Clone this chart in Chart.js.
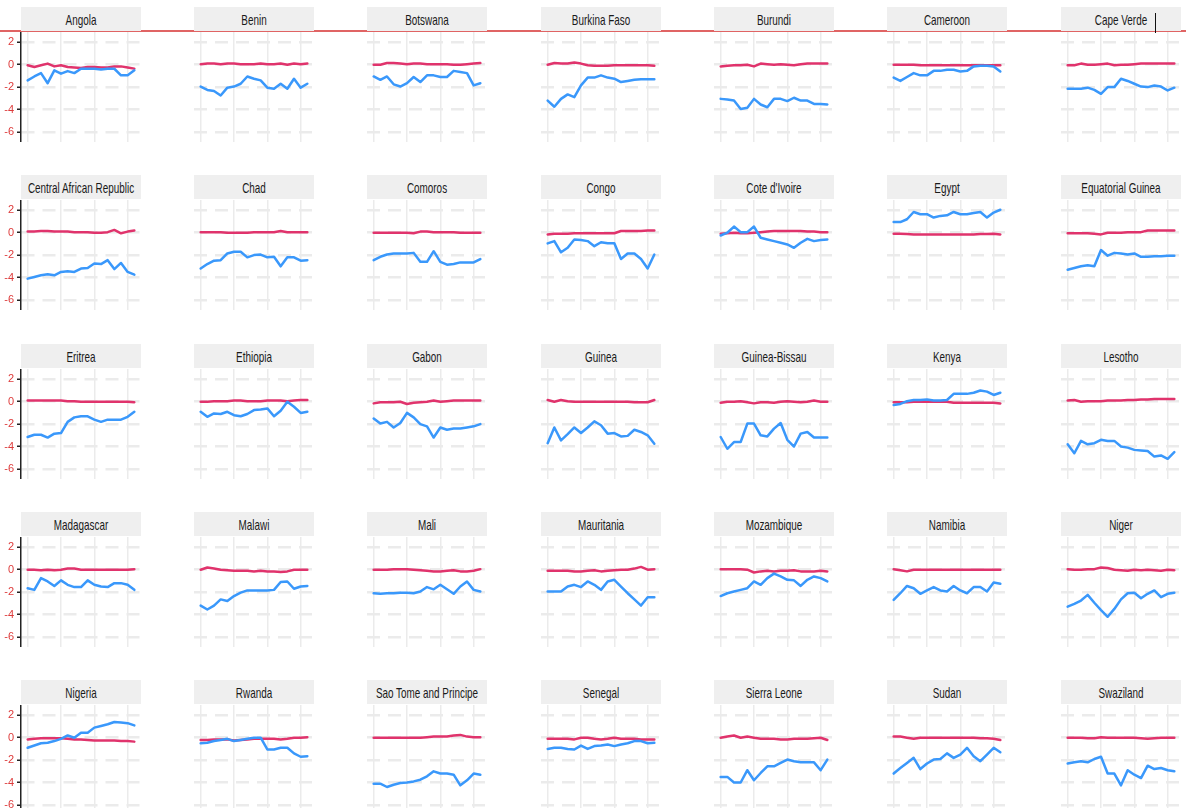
<!DOCTYPE html>
<html>
<head>
<meta charset="utf-8">
<script src="https://cdn.jsdelivr.net/npm/chart.js@4.4.0/dist/chart.umd.min.js"></script>
<style>
  body { margin: 0; background: #fff; width: 1186px; height: 808px; overflow: hidden; position: relative;
         font-family: "Liberation Sans", Arial, sans-serif; }
  .rule { position: absolute; left: 0; top: 30px; width: 1186px; height: 1.5px; background: #e06464; }
  .strip { position: absolute; width: 120px; height: 24px; background: #efefef; overflow: hidden; z-index: 2; }
  .strip span { position: absolute; left: 50%; top: 52%; transform: translate(-50%, -50%) scaleX(0.66);
                white-space: nowrap; font-size: 15px; color: #1a1a1a; }
  .caret { position: absolute; left: 1155px; top: 13px; width: 1px; height: 20px; background: #111; z-index: 3; }
  canvas { position: absolute; }
</style>
</head>
<body>
<div class="rule"></div>
<div class="caret"></div>
<script>
const countries = [
  'Angola', 'Benin', 'Botswana', 'Burkina Faso', 'Burundi', 'Cameroon', 'Cape Verde',
  'Central African Republic', 'Chad', 'Comoros', 'Congo', "Cote d'Ivoire", 'Egypt', 'Equatorial Guinea',
  'Eritrea', 'Ethiopia', 'Gabon', 'Guinea', 'Guinea-Bissau', 'Kenya', 'Lesotho',
  'Madagascar', 'Malawi', 'Mali', 'Mauritania', 'Mozambique', 'Namibia', 'Niger',
  'Nigeria', 'Rwanda', 'Sao Tome and Principe', 'Senegal', 'Sierra Leone', 'Sudan', 'Swaziland'
];
const years = [1990, 1991, 1992, 1993, 1994, 1995, 1996, 1997, 1998, 1999, 2000, 2001, 2002, 2003, 2004, 2005, 2006];
const yTicks = [-6, -4, -2, 0, 2];
const xGrid = [1990, 1995, 2000, 2005];

// blue series, one row per country (same order as countries)
const blueSeries = [
  [-1.4, -1.05, -0.75, -1.65, -0.5, -0.8, -0.57, -0.75, -0.36, -0.36, -0.36, -0.42, -0.36, -0.36, -0.95, -0.95, -0.5],
  [-1.95, -2.25, -2.35, -2.75, -2.05, -1.95, -1.7, -1.05, -1.25, -1.4, -2.05, -2.15, -1.7, -2.15, -1.25, -2.05, -1.7],
  [-1.05, -1.35, -1.05, -1.75, -1.95, -1.65, -1.1, -1.55, -0.95, -0.95, -1.1, -1.1, -0.55, -0.65, -0.75, -1.85, -1.65],
  [-3.2, -3.75, -3.05, -2.65, -2.9, -1.85, -1.15, -1.15, -0.95, -1.15, -1.25, -1.55, -1.45, -1.35, -1.3, -1.3, -1.3],
  [-3.05, -3.1, -3.2, -3.95, -3.85, -3.05, -3.55, -3.8, -3.05, -3.05, -3.25, -2.95, -3.2, -3.2, -3.5, -3.5, -3.55],
  [-1.15, -1.45, -1.1, -0.75, -0.95, -0.95, -0.55, -0.55, -0.45, -0.45, -0.6, -0.55, -0.15, -0.1, -0.1, -0.15, -0.6],
  [-2.15, -2.15, -2.15, -2.05, -2.25, -2.6, -2.0, -2.0, -1.25, -1.45, -1.7, -1.95, -2.0, -1.85, -1.95, -2.3, -2.05],

  [-4.1, -3.95, -3.8, -3.7, -3.8, -3.5, -3.45, -3.5, -3.2, -3.15, -2.75, -2.8, -2.45, -3.25, -2.7, -3.5, -3.75],
  [-3.2, -2.8, -2.5, -2.45, -1.85, -1.7, -1.7, -2.2, -2.0, -1.95, -2.2, -2.15, -3.0, -2.2, -2.2, -2.5, -2.45],
  [-2.45, -2.15, -1.95, -1.85, -1.85, -1.85, -1.8, -2.6, -2.6, -1.65, -2.6, -2.85, -2.8, -2.65, -2.65, -2.65, -2.35],
  [-0.95, -0.75, -1.75, -1.35, -0.6, -0.65, -0.75, -1.2, -0.85, -0.95, -0.95, -2.35, -1.85, -1.85, -2.35, -3.2, -1.95],
  [-0.25, 0, 0.55, 0.05, 0.05, 0.55, -0.45, -0.6, -0.75, -0.9, -1.05, -1.35, -0.9, -0.55, -0.75, -0.65, -0.6],
  [0.95, 0.95, 1.2, 1.85, 1.65, 1.65, 1.35, 1.5, 1.55, 1.85, 1.65, 1.65, 1.75, 1.85, 1.35, 1.8, 2.05],
  [-3.3, -3.15, -3.0, -2.9, -3.0, -1.55, -2.05, -1.8, -1.85, -1.95, -1.85, -2.15, -2.15, -2.1, -2.1, -2.05, -2.05],

  [-3.15, -2.95, -2.95, -3.2, -2.85, -2.8, -1.8, -1.4, -1.3, -1.3, -1.6, -1.8, -1.6, -1.6, -1.6, -1.35, -0.9],
  [-0.9, -1.35, -1.05, -1.1, -0.9, -1.2, -1.3, -1.1, -0.75, -0.7, -0.6, -1.3, -0.8, 0, -0.45, -1.0, -0.9],
  [-1.5, -1.95, -1.8, -2.3, -1.9, -1.0, -1.4, -2.0, -2.2, -3.2, -2.3, -2.5, -2.4, -2.4, -2.3, -2.2, -2.0],
  [-3.7, -2.3, -3.45, -2.9, -2.3, -2.8, -2.3, -1.75, -2.1, -2.85, -2.8, -3.1, -3.05, -2.5, -2.7, -3.0, -3.75],
  [-3.15, -4.2, -3.6, -3.6, -1.95, -1.95, -3.0, -3.1, -2.4, -1.9, -3.4, -4.0, -2.85, -2.7, -3.2, -3.2, -3.2],
  [-0.3, -0.2, 0.05, 0.15, 0.15, 0.2, 0.1, 0.1, 0.15, 0.7, 0.7, 0.7, 0.8, 1.0, 0.9, 0.6, 0.8],
  [-3.8, -4.6, -3.5, -3.8, -3.7, -3.4, -3.5, -3.5, -4.0, -4.1, -4.3, -4.35, -4.4, -4.9, -4.8, -5.1, -4.5],

  [-1.65, -1.8, -0.75, -1.05, -1.45, -0.95, -1.35, -1.55, -1.55, -0.95, -1.35, -1.5, -1.55, -1.2, -1.2, -1.35, -1.8],
  [-3.2, -3.55, -3.2, -2.65, -2.8, -2.35, -2.05, -1.85, -1.85, -1.85, -1.85, -1.8, -1.1, -1.05, -1.7, -1.5, -1.45],
  [-2.1, -2.15, -2.1, -2.1, -2.05, -2.05, -2.1, -1.95, -1.55, -1.75, -1.35, -1.75, -2.15, -1.5, -1.05, -1.8, -1.95],
  [-1.95, -1.95, -1.95, -1.5, -1.35, -1.55, -1.05, -1.35, -1.8, -1.05, -0.9, -1.5, -2.1, -2.65, -3.2, -2.45, -2.45],
  [-2.35, -2.1, -1.95, -1.8, -1.65, -1.05, -1.35, -0.75, -0.35, -0.6, -0.9, -0.95, -1.45, -0.9, -0.6, -0.75, -1.05],
  [-2.7, -2.1, -1.45, -1.65, -2.15, -1.85, -1.55, -1.85, -1.95, -1.45, -1.85, -2.1, -1.55, -1.55, -1.95, -1.15, -1.25],
  [-3.3, -3.05, -2.75, -2.25, -2.95, -3.6, -4.2, -3.5, -2.65, -2.1, -2.05, -2.55, -2.15, -1.85, -2.45, -2.15, -2.05],

  [-0.9, -0.7, -0.5, -0.45, -0.3, -0.1, 0.2, 0, 0.45, 0.45, 0.9, 1.05, 1.2, 1.4, 1.35, 1.3, 1.1],
  [-0.5, -0.45, -0.3, -0.2, -0.1, -0.3, -0.2, -0.1, 0, 0, -1.05, -1.05, -0.9, -0.9, -1.4, -1.7, -1.65],
  [-4.1, -4.1, -4.4, -4.2, -4.05, -4.0, -3.9, -3.75, -3.45, -3.0, -3.2, -3.2, -3.3, -4.25, -3.8, -3.2, -3.3],
  [-1.0, -0.9, -0.9, -1.0, -1.05, -0.7, -1.0, -0.75, -0.7, -0.6, -0.75, -0.6, -0.5, -0.3, -0.3, -0.5, -0.45],
  [-3.5, -3.5, -4.0, -4.0, -2.9, -3.8, -3.15, -2.55, -2.55, -2.25, -1.95, -2.1, -2.2, -2.2, -2.2, -2.9, -1.95],
  [-3.2, -2.7, -2.25, -1.8, -2.8, -2.3, -1.95, -1.9, -1.4, -1.8, -1.5, -0.9, -1.65, -2.1, -1.5, -0.9, -1.3],
  [-2.3, -2.2, -2.1, -2.2, -1.9, -1.7, -3.2, -3.2, -4.25, -2.9, -3.3, -3.6, -2.5, -2.8, -2.7, -2.9, -3.0]
];

// red series, one row per country
const redSeries = [
  [-0.05, -0.2, -0.05, 0.1, -0.15, -0.05, -0.2, -0.25, -0.3, -0.2, -0.2, -0.25, -0.25, -0.15, -0.15, -0.25, -0.35],
  [0.05, 0.1, 0.1, 0.05, 0.1, 0.1, 0.05, 0.05, 0.05, 0.1, 0.05, 0.05, 0.1, 0, 0.1, 0.05, 0.1],
  [0, 0, 0.15, 0.15, 0.1, 0.05, 0.1, 0.1, 0.05, 0.05, 0.05, 0.05, 0, 0, 0.05, 0.1, 0.15],
  [0, 0.15, 0.1, 0.1, 0.2, 0.1, -0.05, -0.1, -0.1, -0.1, -0.05, -0.05, -0.05, -0.05, -0.05, -0.05, -0.1],
  [-0.15, -0.1, -0.05, -0.05, 0, -0.15, 0.1, 0.05, 0, 0.05, 0, -0.05, 0.05, 0.1, 0.1, 0.1, 0.1],
  [0, 0, 0, 0, -0.05, -0.05, -0.05, -0.05, -0.05, -0.05, -0.05, -0.05, -0.05, -0.05, -0.05, -0.05, -0.05],
  [-0.05, -0.05, 0.1, 0, 0, 0.05, 0.1, -0.05, 0, 0, 0.05, 0.1, 0.1, 0.1, 0.1, 0.1, 0.1],

  [0.1, 0.1, 0.15, 0.15, 0.1, 0.1, 0.1, 0.05, 0.05, 0.05, 0, 0, 0.05, 0.25, -0.05, 0.1, 0.2],
  [0.05, 0.05, 0.05, 0.05, 0, 0, 0, 0, 0.05, 0.05, 0.05, 0.05, 0.15, 0.05, 0.05, 0.05, 0.05],
  [0, 0, 0, 0, 0, 0, -0.05, 0.1, 0.1, 0.05, 0.05, 0.05, 0.05, 0, 0, 0, 0],
  [-0.15, -0.1, -0.1, -0.1, -0.05, -0.05, -0.05, -0.05, -0.05, -0.05, -0.05, 0.15, 0.15, 0.15, 0.15, 0.2, 0.2],
  [-0.1, -0.05, 0, -0.05, -0.05, 0, 0.05, 0.1, 0.15, 0.15, 0.15, 0.15, 0.15, 0.1, 0.1, 0.05, 0.05],
  [-0.1, -0.1, -0.12, -0.15, -0.15, -0.15, -0.15, -0.15, -0.15, -0.15, -0.15, -0.15, -0.15, -0.12, -0.12, -0.1, -0.15],
  [-0.05, -0.05, -0.05, -0.05, -0.1, -0.15, 0, 0, 0, 0.05, 0.05, 0.05, 0.2, 0.2, 0.2, 0.2, 0.2],

  [0.1, 0.1, 0.1, 0.1, 0.1, 0.1, 0.05, 0.05, 0, 0, 0, 0, 0, 0, 0, 0, -0.05],
  [0, 0, 0.05, 0.05, 0.05, 0.1, 0.1, 0.05, 0.05, 0.05, 0.1, 0.1, 0.1, 0.05, 0.1, 0.15, 0.15],
  [-0.15, -0.05, -0.05, -0.05, 0, -0.2, -0.1, -0.05, 0, 0.1, 0, 0.05, 0.1, 0.1, 0.1, 0.1, 0.1],
  [0.15, 0, 0.15, 0.05, 0, 0, 0, 0, 0, 0, 0, 0, 0, -0.05, -0.05, -0.05, 0.15],
  [-0.1, 0, 0, 0.05, -0.05, -0.15, -0.05, -0.05, -0.1, 0, 0.05, 0, -0.05, 0, 0.1, 0, 0],
  [-0.05, -0.05, -0.05, 0, 0, 0, 0, 0, 0, -0.1, -0.1, -0.1, -0.1, -0.1, -0.1, -0.1, -0.15],
  [0.1, 0.15, 0, 0.05, 0.05, 0.05, 0.1, 0.1, 0.1, 0.15, 0.15, 0.2, 0.2, 0.25, 0.25, 0.25, 0.25],

  [0, 0, -0.05, 0, -0.05, 0, 0.1, 0.1, 0, 0, 0, 0, 0, 0, 0, 0, 0.05],
  [0, 0.2, 0.1, 0, -0.05, -0.1, -0.1, -0.1, -0.15, -0.1, -0.15, -0.15, -0.2, -0.15, 0, 0, 0],
  [0, 0, 0, 0.05, 0.05, 0.05, 0, -0.05, -0.1, -0.15, -0.15, -0.1, -0.05, -0.15, -0.15, -0.1, 0.05],
  [-0.1, -0.1, -0.1, -0.1, -0.15, -0.15, -0.1, -0.05, -0.15, -0.1, -0.05, 0, 0, 0.1, 0.25, 0, 0.05],
  [0.05, 0.05, 0.05, 0.05, 0, -0.25, -0.15, -0.1, -0.15, -0.1, -0.1, -0.05, -0.15, -0.15, -0.15, -0.1, -0.15],
  [0.05, -0.05, -0.15, 0, 0, 0, 0, 0, 0, 0, 0, 0, 0, 0, 0, 0, 0],
  [0.05, 0, 0, 0.05, 0.05, 0.2, 0.15, 0, -0.05, -0.1, 0, -0.05, 0, -0.05, -0.1, 0, -0.05],

  [-0.15, -0.1, -0.05, -0.05, -0.05, -0.05, -0.1, -0.15, -0.15, -0.2, -0.25, -0.25, -0.25, -0.25, -0.3, -0.3, -0.35],
  [-0.2, -0.2, -0.15, -0.15, -0.15, -0.25, -0.2, -0.15, -0.1, -0.1, -0.1, -0.1, -0.15, -0.1, 0, 0, 0.05],
  [0, 0, 0, 0, 0, 0, 0, 0, 0.05, 0.1, 0.1, 0.1, 0.2, 0.25, 0.1, 0.05, 0.05],
  [-0.1, -0.1, -0.1, -0.1, -0.15, 0, 0, -0.1, -0.15, -0.1, 0, -0.1, -0.1, -0.1, -0.15, -0.15, -0.15],
  [0, 0.1, 0.2, 0, 0.1, 0, -0.1, -0.1, -0.1, -0.15, -0.15, -0.1, -0.1, -0.1, -0.05, 0, -0.2],
  [0.1, 0.1, 0, -0.1, 0, 0, 0, 0, 0, 0, 0, 0, 0, -0.05, -0.05, -0.1, -0.2],
  [0, 0, 0, -0.05, -0.05, 0.05, 0, 0, 0, 0, 0, -0.05, -0.1, -0.05, 0, 0, 0]
];

const BLUE = '#3a98fb';
const RED = '#e0336c';
const GRID = '#ebebeb';
const NCOL = 7;

function points(vals) {
  return years.map((yr, i) => ({ x: yr, y: vals[i] }));
}

function drawPanel(idx) {
  const col = idx % NCOL, row = Math.floor(idx / NCOL);
  const left = Math.round(20.7 + col * 173.33);
  const top = Math.round(7 + row * 168.3);
  const withAxis = col === 0;
  const axisW = withAxis ? 21 : 0;

  const strip = document.createElement('div');
  strip.className = 'strip';
  strip.style.left = left + 'px';
  strip.style.top = top + 'px';
  const label = document.createElement('span');
  label.textContent = countries[idx];
  strip.appendChild(label);
  document.body.appendChild(strip);

  const canvas = document.createElement('canvas');
  canvas.width = 120 + axisW;
  canvas.height = 110;
  canvas.style.left = (left - axisW) + 'px';
  canvas.style.top = (top + 25) + 'px';
  document.body.appendChild(canvas);

  new Chart(canvas, {
    type: 'line',
    data: {
      datasets: [
        { data: points(blueSeries[idx]), borderColor: BLUE },
        { data: points(redSeries[idx]), borderColor: RED }
      ]
    },
    options: {
      responsive: false,
      animation: false,
      devicePixelRatio: 1,
      layout: { padding: 0 },
      plugins: { legend: { display: false }, tooltip: { enabled: false } },
      elements: {
        point: { radius: 0 },
        line: { tension: 0, borderWidth: 2.5, borderJoinStyle: 'round', borderCapStyle: 'round' }
      },
      scales: {
        x: {
          type: 'linear', min: 1989, max: 2007,
          afterBuildTicks: s => { s.ticks = xGrid.map(v => ({ value: v })); },
          afterFit: s => { s.height = 0; },
          ticks: { display: false },
          border: { display: false },
          grid: { color: GRID, lineWidth: 1.5, drawTicks: false }
        },
        y: {
          min: -6.9, max: 2.92,
          afterBuildTicks: s => { s.ticks = yTicks.map(v => ({ value: v })); },
          // keep the plot the full canvas height: labels sit well inside it
          afterFit: s => { s.width = axisW; s.paddingTop = 0; s.paddingBottom = 0; },
          ticks: { display: withAxis, color: '#dd3b3b', padding: 3,
                   font: { size: 11, family: '"Liberation Sans", Arial, sans-serif' } },
          border: { display: withAxis, color: '#222', width: 1.5, dash: [13, 8] },
          grid: { color: GRID, lineWidth: 2.5, drawTicks: withAxis, tickLength: 4,
                  tickColor: '#222', tickWidth: 1.5 }
        }
      }
    }
  });
}

countries.forEach((c, i) => drawPanel(i));
</script>
</body>
</html>
